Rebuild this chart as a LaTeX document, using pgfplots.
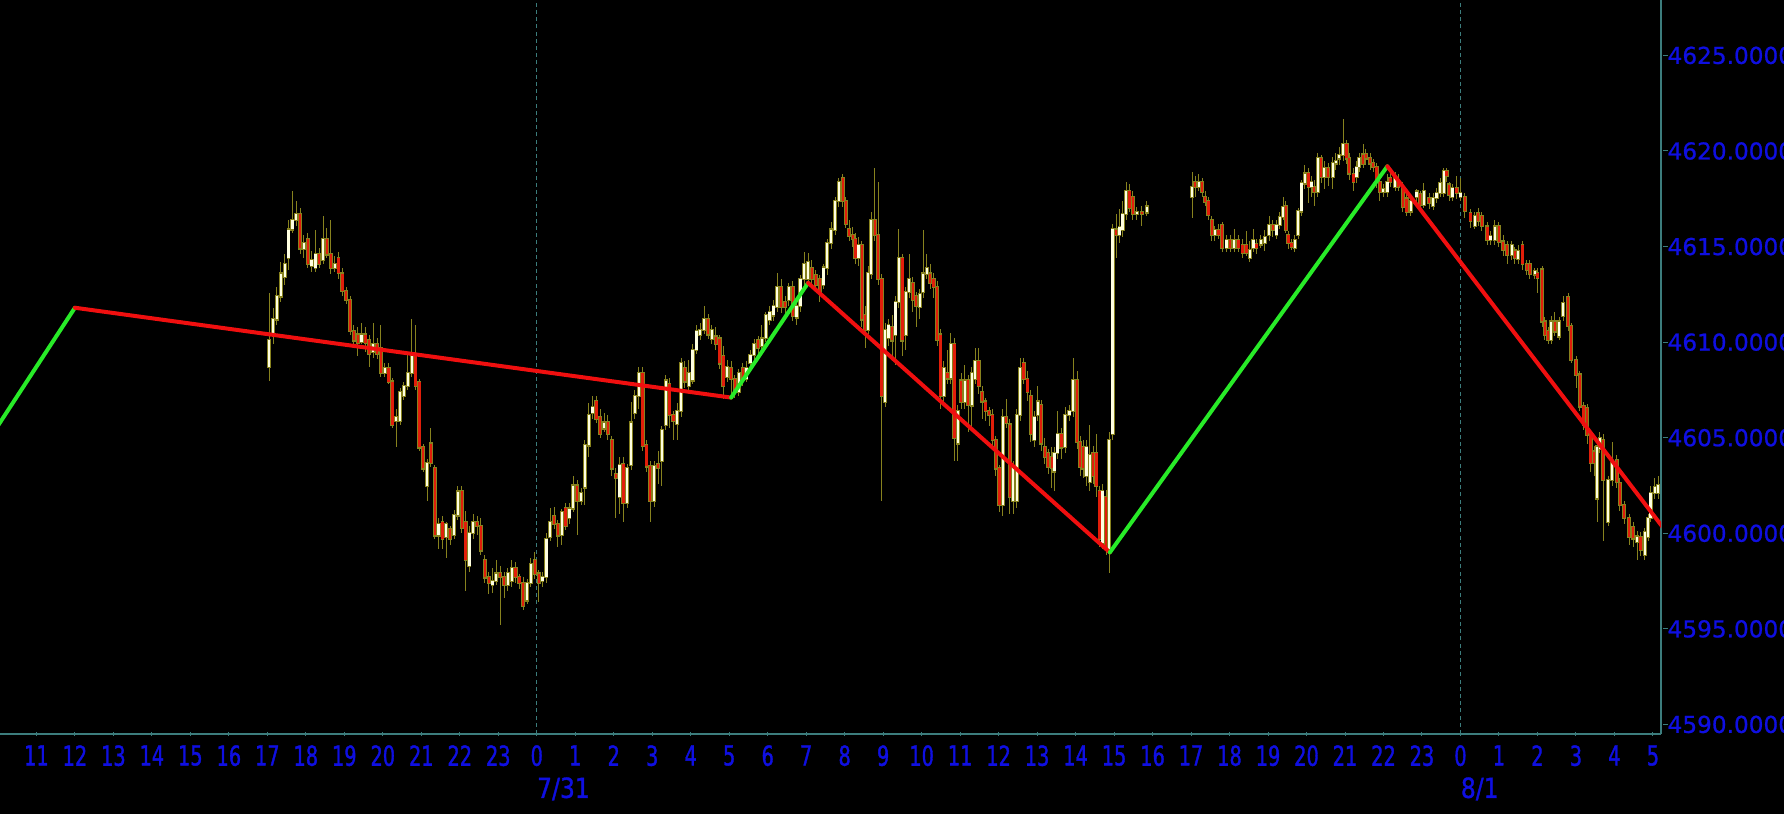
\documentclass[border=0pt]{standalone}
\usepackage{pgfplots}
\pgfplotsset{compat=1.18}
\usepackage{pgfplotstable}
\usepackage{fontspec}
\setmainfont{DejaVu Sans}
\newfontfamily\narrowfont[FakeStretch=0.7, FakeBold=1.2]{DejaVu Sans}
\newfontfamily\datefont[FakeStretch=0.85, FakeBold=1.2]{DejaVu Sans}
\newfontfamily\pricefont[FakeBold=0.8]{DejaVu Sans}

\definecolor{tickblue}{RGB}{15,15,225}
\definecolor{axisteal}{RGB}{60,125,125}
\definecolor{wick}{RGB}{135,130,30}
\definecolor{upfill}{RGB}{255,255,225}
\definecolor{downfill}{RGB}{225,30,10}
\definecolor{zzred}{RGB}{240,15,15}
\definecolor{zzgreen}{RGB}{40,235,40}

% candles: x = hours from 7/31 0:00
\pgfplotstableread{
x o h l c
-6.95 4608.7 4612.6 4608.0 4610.1
-6.85 4610.4 4611.8 4609.9 4611.2
-6.75 4611.2 4612.9 4610.9 4612.4
-6.65 4612.4 4614.2 4612.1 4613.6
-6.55 4613.4 4614.6 4613.0 4614.1
-6.45 4614.4 4616.4 4613.8 4615.9
-6.35 4615.9 4617.9 4615.7 4616.4
-6.25 4616.4 4617.4 4616.1 4616.7
-6.15 4616.7 4617.0 4614.6 4614.9
-6.05 4614.9 4615.6 4614.4 4615.2
-5.95 4615.4 4615.7 4613.9 4614.1
-5.85 4614.0 4614.8 4613.7 4614.3
-5.75 4613.9 4615.9 4613.7 4614.6
-5.65 4614.6 4614.9 4613.9 4614.1
-5.55 4614.3 4616.6 4614.1 4615.4
-5.45 4615.4 4616.0 4614.4 4614.6
-5.35 4614.6 4616.4 4613.6 4613.9
-5.25 4613.9 4614.5 4613.7 4614.1
-5.15 4614.4 4614.7 4613.3 4613.6
-5.05 4613.6 4613.9 4612.4 4612.7
-4.95 4612.7 4612.9 4612.0 4612.2
-4.85 4612.2 4612.4 4610.4 4610.6
-4.75 4610.6 4610.9 4609.9 4610.1
-4.65 4610.4 4610.8 4609.3 4609.95
-4.55 4610.0 4611.0 4609.9 4610.4
-4.45 4610.4 4610.8 4609.5 4609.95
-4.35 4610.1 4610.4 4608.7 4609.4
-4.25 4609.5 4611.0 4609.2 4609.9
-4.15 4609.9 4610.2 4609.1 4609.4
-4.05 4609.7 4610.9 4608.2 4608.4
-3.95 4608.4 4608.9 4608.2 4608.65
-3.85 4608.65 4608.9 4607.8 4607.95
-3.75 4607.95 4608.1 4605.5 4605.7
-3.65 4605.9 4606.5 4604.5 4606.1
-3.55 4605.9 4607.6 4605.7 4607.4
-3.45 4607.2 4607.9 4607.0 4607.7
-3.35 4607.7 4609.4 4607.5 4608.4
-3.25 4608.4 4611.2 4608.2 4609.3
-3.15 4609.3 4610.9 4607.5 4607.7
-3.05 4607.9 4608.1 4604.3 4604.5
-2.95 4604.5 4604.7 4603.2 4603.4
-2.85 4602.5 4603.9 4601.7 4603.7
-2.75 4604.7 4605.5 4603.5 4603.7
-2.65 4603.4 4603.6 4599.7 4599.9
-2.55 4599.9 4600.8 4599.2 4600.5
-2.45 4600.6 4600.9 4599.2 4599.7
-2.35 4599.8 4600.6 4598.7 4600.5
-2.25 4600.2 4600.4 4599.4 4599.7
-2.15 4599.9 4601.2 4599.7 4600.95
-2.05 4600.95 4602.5 4600.7 4602.2
-1.95 4602.2 4602.5 4600.0 4600.3
-1.85 4600.6 4601.2 4597.0 4598.6
-1.75 4598.3 4600.4 4598.0 4600.0
-1.65 4600.0 4601.0 4599.7 4600.6
-1.55 4600.6 4600.9 4599.9 4600.4
-1.45 4600.4 4600.8 4598.9 4599.1
-1.35 4598.6 4598.9 4597.4 4597.7
-1.25 4597.7 4598.0 4596.8 4597.4
-1.15 4597.3 4598.2 4596.9 4597.5
-1.05 4597.5 4598.6 4597.3 4597.9
-0.95 4597.9 4598.3 4595.2 4597.7
-0.85 4597.7 4598.0 4596.6 4597.3
-0.75 4597.3 4598.2 4597.0 4597.9
-0.65 4597.5 4598.6 4597.2 4598.2
-0.55 4598.2 4598.5 4597.4 4597.7
-0.45 4597.7 4597.9 4597.1 4597.4
-0.35 4597.4 4597.7 4596.0 4596.2
-0.25 4596.5 4597.6 4596.3 4597.4
-0.15 4597.4 4598.7 4597.2 4598.4
-0.05 4598.6 4599.0 4597.6 4597.9
0.05 4597.9 4598.1 4596.4 4597.4
0.15 4597.5 4598.0 4597.2 4597.7
0.25 4597.7 4600.0 4597.4 4599.7
0.35 4599.8 4601.3 4599.6 4600.6
0.45 4600.9 4601.4 4600.2 4600.5
0.55 4600.5 4600.7 4599.3 4599.9
0.65 4599.9 4601.3 4599.4 4601.1
0.75 4601.3 4601.6 4600.2 4600.4
0.85 4600.8 4601.6 4600.5 4601.3
0.95 4601.3 4603.0 4601.1 4602.5
1.05 4602.5 4602.8 4599.9 4601.7
1.15 4601.7 4602.4 4601.5 4602.1
1.25 4602.4 4604.9 4601.5 4604.6
1.35 4604.6 4606.8 4604.0 4606.2
1.45 4606.3 4607.2 4606.0 4606.6
1.55 4606.9 4607.2 4605.8 4606.0
1.65 4606.1 4606.5 4605.0 4605.2
1.75 4605.5 4606.3 4605.3 4605.8
1.85 4605.8 4606.2 4604.9 4605.2
1.95 4604.9 4605.1 4603.0 4603.4
2.05 4603.1 4603.4 4600.8 4602.9
2.15 4601.9 4604.0 4601.0 4603.6
2.25 4603.6 4604.0 4600.6 4601.6
2.35 4601.6 4603.6 4601.3 4603.4
2.45 4603.6 4606.9 4603.3 4605.8
2.55 4606.3 4607.5 4606.0 4607.2
2.65 4607.2 4608.7 4606.5 4608.4
2.75 4608.4 4608.7 4604.3 4604.6
2.85 4604.6 4604.9 4603.2 4603.5
2.95 4603.5 4603.8 4600.6 4601.7
3.05 4601.7 4603.8 4601.4 4603.5
3.15 4603.6 4604.3 4602.6 4603.4
3.25 4603.8 4605.6 4602.5 4605.4
3.35 4605.7 4608.3 4605.4 4608.0
3.45 4607.8 4608.1 4605.5 4606.2
3.55 4606.2 4606.4 4604.9 4605.9
3.65 4605.7 4606.8 4604.9 4606.4
3.75 4606.4 4609.2 4606.1 4608.9
3.85 4608.65 4609.0 4607.6 4607.96
3.95 4607.7 4609.1 4607.5 4608.4
4.05 4608.0 4609.9 4607.8 4609.6
4.15 4609.6 4610.9 4609.4 4610.6
4.25 4610.4 4611.0 4610.1 4610.65
4.35 4610.65 4611.9 4610.4 4611.2
4.45 4611.2 4611.5 4610.2 4610.4
4.55 4610.2 4610.9 4609.9 4610.65
4.65 4610.3 4610.8 4609.6 4609.9
4.75 4610.2 4610.4 4608.6 4608.9
4.85 4609.3 4609.8 4607.0 4607.7
4.95 4608.2 4609.1 4607.9 4608.7
5.05 4608.65 4609.0 4607.1 4608.1
5.15 4608.1 4608.3 4607.1 4607.4
5.25 4607.4 4608.6 4607.2 4608.4
5.35 4608.65 4608.9 4607.7 4608.1
5.45 4608.1 4609.0 4607.9 4608.65
5.55 4608.9 4609.6 4608.7 4609.35
5.65 4609.35 4610.2 4609.0 4609.9
5.75 4610.1 4610.3 4609.4 4609.7
5.85 4609.8 4610.9 4609.5 4610.2
5.95 4610.2 4611.6 4610.0 4611.4
6.05 4611.15 4611.9 4610.9 4611.6
6.15 4611.4 4612.2 4611.1 4611.9
6.25 4611.85 4613.6 4611.6 4612.9
6.35 4612.9 4613.3 4611.5 4611.85
6.45 4612.1 4612.4 4611.5 4611.85
6.55 4612.2 4613.1 4611.9 4612.9
6.65 4612.9 4613.2 4611.1 4611.4
6.75 4611.3 4612.1 4610.9 4611.9
6.85 4611.9 4613.5 4611.6 4613.3
6.95 4613.3 4614.7 4613.0 4614.1
7.05 4613.3 4614.65 4613.0 4614.2
7.15 4613.9 4614.3 4613.0 4613.3
7.25 4613.5 4613.8 4612.8 4613.0
7.35 4613.3 4613.5 4612.1 4612.6
7.45 4613.0 4614.1 4612.8 4613.9
7.55 4613.9 4615.4 4613.5 4615.2
7.65 4615.2 4616.3 4614.9 4615.9
7.75 4615.9 4617.6 4615.6 4617.4
7.85 4617.4 4618.6 4617.1 4618.4
7.95 4618.6 4618.8 4617.1 4617.4
8.03 4617.4 4617.6 4616.0 4616.2
8.12 4615.9 4616.4 4615.3 4615.55
8.21 4615.6 4616.0 4615.0 4615.4
8.28 4615.4 4615.7 4614.1 4614.4
8.36 4614.4 4615.5 4614.0 4615.1
8.45 4615.1 4615.3 4610.8 4611.2
8.53 4611.4 4611.9 4609.7 4610.65
8.61 4610.65 4614.0 4610.4 4613.6
8.69 4613.6 4616.8 4613.3 4616.4
8.78 4616.4 4619.1 4615.3 4615.6
8.87 4615.6 4618.4 4613.0 4613.3
8.96 4613.3 4613.6 4601.7 4607.2
9.05 4606.9 4611.0 4606.6 4610.65
9.14 4610.2 4611.2 4609.8 4610.9
9.23 4610.8 4611.4 4609.0 4610.1
9.32 4610.4 4612.4 4608.8 4612.1
9.41 4612.1 4615.9 4611.8 4614.4
9.50 4614.4 4614.6 4609.3 4610.1
9.59 4610.4 4612.9 4609.6 4612.65
9.68 4612.65 4614.6 4612.3 4613.3
9.77 4613.1 4613.4 4611.6 4612.2
9.86 4612.4 4612.6 4610.8 4611.9
9.95 4611.85 4612.8 4611.2 4612.5
10.04 4612.65 4615.9 4612.3 4613.6
10.13 4613.6 4614.6 4613.3 4613.9
10.22 4613.6 4614.1 4612.8 4613.1
10.31 4613.3 4613.6 4612.3 4612.9
10.40 4612.9 4613.2 4609.8 4610.1
10.49 4610.4 4610.7 4606.5 4607.2
10.58 4607.2 4609.0 4606.9 4608.65
10.67 4608.4 4609.6 4607.8 4608.1
10.76 4608.1 4610.5 4607.8 4609.9
10.85 4609.9 4610.2 4603.8 4605.0
10.94 4604.7 4606.7 4603.8 4606.4
11.03 4608.0 4608.4 4606.5 4606.9
11.12 4606.9 4608.8 4606.5 4608.0
11.21 4608.0 4608.3 4605.3 4606.7
11.30 4606.7 4608.7 4605.5 4608.4
11.39 4608.1 4609.7 4607.8 4609.0
11.48 4609.0 4609.7 4607.3 4607.7
11.57 4607.4 4607.7 4606.0 4606.9
11.66 4606.9 4607.1 4605.9 4606.4
11.75 4606.4 4606.6 4605.6 4606.2
11.84 4606.2 4606.5 4604.6 4604.9
11.93 4604.9 4605.1 4603.0 4603.4
12.02 4603.4 4603.6 4601.1 4601.5
12.11 4601.5 4606.5 4600.9 4606.1
12.20 4606.1 4607.0 4605.5 4605.8
12.29 4605.7 4606.0 4601.0 4601.9
12.38 4601.7 4603.8 4601.0 4603.4
12.47 4601.7 4606.5 4601.3 4606.2
12.56 4606.2 4609.2 4605.9 4608.65
12.65 4608.9 4609.2 4607.8 4608.1
12.75 4608.1 4608.5 4606.9 4607.4
12.84 4607.2 4607.5 4604.8 4605.2
12.93 4604.9 4606.4 4604.5 4606.1
13.02 4606.2 4607.7 4605.9 4606.9
13.11 4606.7 4607.0 4604.3 4604.7
13.20 4604.5 4605.0 4603.6 4604.0
13.29 4604.2 4604.4 4603.1 4603.5
13.38 4604.0 4604.5 4602.4 4603.4
13.45 4603.25 4604.5 4602.2 4604.2
13.53 4604.2 4606.4 4603.9 4605.2
13.63 4605.2 4605.5 4603.9 4604.5
13.73 4604.5 4606.6 4604.2 4606.2
13.84 4606.2 4606.7 4605.9 4606.4
13.94 4606.4 4609.2 4606.1 4608.0
14.04 4608.0 4608.5 4604.4 4604.8
14.12 4604.8 4605.1 4603.0 4603.5
14.20 4604.5 4604.9 4602.9 4603.4
14.28 4603.0 4604.9 4602.5 4604.5
14.37 4602.7 4605.7 4602.2 4604.1
14.46 4604.2 4604.6 4602.6 4603.0
14.54 4604.2 4605.2 4601.9 4602.5
14.62 4602.2 4602.5 4599.3 4599.7
14.70 4599.5 4602.6 4599.2 4602.2
14.79 4601.9 4602.3 4598.9 4599.2
14.87 4599.2 4605.3 4597.9 4604.9
14.96 4605.2 4616.2 4604.9 4615.9
15.05 4615.9 4616.7 4614.4 4615.6
15.14 4615.6 4617.0 4615.2 4616.0
15.22 4615.9 4617.4 4615.5 4616.7
15.31 4616.7 4618.4 4616.4 4617.9
15.40 4617.9 4618.3 4616.8 4617.0
15.49 4617.6 4617.9 4616.4 4616.7
15.59 4616.7 4617.1 4616.4 4616.8
15.72 4616.8 4617.1 4616.1 4616.7
15.85 4616.8 4617.4 4616.6 4617.1
17.03 4617.62 4618.9 4616.5 4618.14
17.11 4618.4 4618.7 4617.6 4618.14
17.20 4618.14 4618.8 4617.9 4618.4
17.29 4618.4 4618.6 4617.6 4617.88
17.37 4617.62 4617.9 4617.1 4617.36
17.45 4617.4 4617.6 4616.4 4616.66
17.54 4616.4 4616.6 4615.3 4615.62
17.62 4615.62 4616.1 4615.3 4615.88
17.71 4615.88 4616.2 4615.4 4615.62
17.81 4616.14 4616.3 4614.7 4614.92
17.92 4614.92 4615.6 4614.7 4615.36
18.02 4615.36 4615.6 4614.7 4614.92
18.12 4614.92 4615.9 4614.7 4615.36
18.23 4615.36 4615.6 4614.7 4614.92
18.34 4615.1 4615.4 4614.4 4614.66
18.44 4615.1 4615.8 4614.5 4614.66
18.53 4614.4 4615.3 4614.2 4614.84
18.62 4614.92 4615.9 4614.7 4615.36
18.70 4615.13 4615.4 4614.6 4614.92
18.81 4615.13 4615.6 4614.9 4615.36
18.92 4615.2 4615.9 4614.8 4615.5
19.03 4615.62 4616.6 4615.3 4616.14
19.12 4616.14 4616.4 4615.5 4615.88
19.22 4615.62 4616.4 4615.4 4616.14
19.31 4616.14 4616.8 4615.9 4616.57
19.39 4616.57 4617.6 4616.4 4617.1
19.46 4617.1 4617.4 4615.7 4615.88
19.53 4615.62 4615.8 4614.9 4615.18
19.61 4615.18 4615.4 4614.8 4615.0
19.70 4614.92 4615.6 4614.7 4615.36
19.78 4615.62 4617.0 4615.4 4616.84
19.87 4616.84 4618.5 4616.6 4618.31
19.96 4618.31 4619.3 4618.0 4618.83
20.05 4618.83 4619.1 4617.3 4618.14
20.13 4618.14 4618.7 4617.6 4618.4
20.20 4618.14 4618.5 4617.1 4617.88
20.29 4617.88 4619.9 4617.6 4619.62
20.38 4619.62 4619.8 4618.3 4618.66
20.46 4618.66 4619.5 4618.0 4619.1
20.56 4619.1 4619.4 4618.2 4618.66
20.68 4618.66 4619.7 4618.0 4619.36
20.76 4619.36 4619.9 4619.0 4619.5
20.85 4619.62 4620.2 4619.3 4619.8
20.95 4619.8 4621.7 4619.5 4620.35
21.04 4620.35 4620.6 4619.3 4619.62
21.11 4619.62 4619.9 4618.5 4618.83
21.22 4618.83 4619.1 4617.9 4618.4
21.30 4618.66 4619.5 4618.3 4619.18
21.37 4619.18 4619.9 4618.9 4619.62
21.47 4619.83 4620.4 4619.1 4619.36
21.54 4619.83 4620.1 4619.3 4619.62
21.65 4619.62 4619.9 4619.0 4619.36
21.73 4619.36 4619.6 4618.9 4619.18
21.82 4619.18 4619.4 4618.1 4618.4
21.90 4618.4 4618.7 4617.4 4617.88
21.99 4617.88 4618.3 4617.6 4618.0
22.10 4617.88 4618.8 4617.6 4618.4
22.18 4618.6 4618.9 4618.1 4618.4
22.30 4618.14 4618.9 4617.9 4618.6
22.38 4618.4 4618.8 4617.9 4618.14
22.50 4618.14 4618.4 4616.8 4617.1
22.60 4617.53 4617.8 4616.6 4616.84
22.71 4616.84 4617.6 4616.6 4617.36
22.86 4617.6 4618.0 4617.3 4617.88
22.95 4617.73 4617.9 4616.9 4617.2
23.05 4617.2 4618.3 4617.0 4617.9
23.19 4617.55 4617.8 4617.0 4617.29
23.29 4617.12 4617.8 4616.9 4617.55
23.38 4617.55 4618.1 4617.3 4617.82
23.47 4617.82 4618.6 4617.6 4618.3
23.57 4617.82 4619.1 4617.6 4618.95
23.64 4618.95 4619.1 4618.4 4618.7
23.71 4618.25 4618.4 4617.4 4617.73
23.79 4617.6 4618.3 4617.4 4618.08
23.90 4618.08 4618.7 4617.5 4617.82
24.00 4617.6 4618.6 4617.4 4617.82
24.11 4617.59 4617.8 4616.5 4616.86
24.26 4616.77 4617.0 4616.0 4616.33
24.37 4616.07 4616.8 4615.9 4616.59
24.46 4616.77 4617.0 4616.1 4616.33
24.55 4616.59 4616.8 4615.8 4616.07
24.70 4616.07 4616.3 4615.1 4615.37
24.78 4615.37 4615.8 4615.1 4615.55
24.89 4615.37 4616.4 4615.1 4616.07
25.00 4616.07 4616.3 4615.0 4615.28
25.11 4615.28 4615.6 4614.5 4614.85
25.21 4615.11 4615.3 4614.1 4614.59
25.33 4614.59 4615.3 4614.3 4615.07
25.41 4614.79 4615.0 4614.1 4614.41
25.50 4614.38 4615.1 4614.1 4614.79
25.61 4615.07 4615.3 4613.8 4614.1
25.72 4614.1 4614.3 4613.5 4613.8
25.80 4614.06 4614.3 4613.3 4613.57
25.93 4613.54 4613.9 4613.3 4613.7
26.00 4613.62 4613.9 4612.6 4613.36
26.12 4613.8 4614.0 4610.8 4611.09
26.19 4611.09 4611.3 4610.1 4610.39
26.28 4610.57 4610.8 4609.9 4610.13
26.36 4610.13 4611.4 4609.9 4611.09
26.45 4611.09 4611.6 4610.3 4610.57
26.56 4610.31 4611.3 4610.1 4611.09
26.67 4611.35 4612.4 4611.1 4612.05
26.80 4612.35 4612.6 4610.6 4610.83
26.88 4610.83 4611.0 4608.9 4609.08
27.01 4609.08 4609.3 4607.6 4608.3
27.10 4608.3 4608.5 4606.4 4606.64
27.20 4606.64 4606.9 4605.4 4605.68
27.29 4606.55 4606.8 4604.7 4605.15
27.38 4605.15 4605.4 4603.2 4603.67
27.47 4604.28 4604.6 4603.0 4603.67
27.55 4601.83 4604.8 4600.6 4604.54
27.62 4604.45 4605.3 4604.2 4604.98
27.71 4604.89 4605.2 4599.6 4602.79
27.84 4600.61 4603.0 4600.4 4602.79
27.94 4602.79 4604.8 4602.5 4603.67
28.06 4603.84 4604.1 4602.4 4602.7
28.14 4602.62 4602.9 4601.2 4601.48
28.25 4601.48 4601.7 4600.5 4600.79
28.38 4600.79 4601.0 4599.4 4599.83
28.49 4600.35 4600.6 4599.3 4599.74
28.59 4599.56 4600.1 4598.6 4599.83
28.68 4599.83 4600.1 4598.8 4599.13
28.79 4598.86 4600.3 4598.6 4600.09
28.88 4599.83 4601.0 4599.6 4600.79
28.94 4600.79 4602.5 4600.6 4602.1
29.05 4602.1 4602.9 4601.8 4602.4
29.14 4602.1 4603.0 4601.8 4602.53
}\candles

\begin{document}
\begin{tikzpicture}
\fill[black] (0,0) rectangle (892pt,407pt);
\path[use as bounding box] (0,0) rectangle (892pt,407pt);
\begin{axis}[
    at={(0pt,40pt)}, anchor=south west,
    scale only axis, width=830.5pt, height=367pt,
    xmin=-13.946, xmax=29.21, ymin=4589.5, ymax=4627.9,
    axis x line=bottom, axis y line=right,
    axis line style={-, draw=axisteal, line width=0.6pt},
    xtick={-13,...,29},
    xticklabels={11,12,13,14,15,16,17,18,19,20,21,22,23,0,1,2,3,4,5,6,7,8,9,10,11,12,13,14,15,16,17,18,19,20,21,22,23,0,1,2,3,4,5},
    ytick={4590,4595,...,4625},
    yticklabels={4590.0000,4595.0000,4600.0000,4605.0000,4610.0000,4615.0000,4620.0000,4625.0000},
    major tick length=2.2pt,
    tick style={draw=axisteal, line width=0.5pt},
    ytick style={xshift=2.2pt},
    xticklabel style={font=\fontsize{13.8}{14}\narrowfont, text=tickblue, yshift=-1pt},
    yticklabel style={font=\fontsize{11.6}{12}\pricefont, text=tickblue, anchor=west, inner sep=0pt, xshift=2pt},
]
% day separators
\addplot[axisteal, line width=0.5pt, dash pattern=on 2pt off 1.6pt] coordinates {(0,4589.5) (0,4627.9)};
\addplot[axisteal, line width=0.5pt, dash pattern=on 2pt off 1.6pt] coordinates {(24,4589.5) (24,4627.9)};
\coordinate (d0) at (axis cs:0,4589.5);
\coordinate (d1) at (axis cs:24,4589.5);

% wicks
\addplot[draw=none, mark=none, forget plot,
  error bars/.cd, y dir=both, y explicit, error mark=none,
  error bar style={line width=0.5pt, draw=wick, solid}]
  table[x=x, y expr={(\thisrow{h}+\thisrow{l})/2}, y error expr={(\thisrow{h}-\thisrow{l})/2}] {\candles};
% body outline
\addplot[draw=none, mark=none, forget plot,
  error bars/.cd, y dir=both, y explicit, error mark=none,
  error bar style={line width=1.95pt, draw=wick, solid}]
  table[x=x, y expr={(\thisrow{o}+\thisrow{c})/2}, y error expr={abs(\thisrow{c}-\thisrow{o})/2+0.06}] {\candles};
% up bodies
\addplot[draw=none, mark=none, forget plot,
  restrict expr to domain={\thisrow{c}-\thisrow{o}}{0:100},
  error bars/.cd, y dir=both, y explicit, error mark=none,
  error bar style={line width=1.15pt, draw=upfill, solid}]
  table[x=x, y expr={(\thisrow{o}+\thisrow{c})/2}, y error expr={abs(\thisrow{c}-\thisrow{o})/2}] {\candles};
% down bodies
\addplot[draw=none, mark=none, forget plot,
  restrict expr to domain={\thisrow{c}-\thisrow{o}}{-100:-0.001},
  error bars/.cd, y dir=both, y explicit, error mark=none,
  error bar style={line width=1.15pt, draw=downfill, solid}]
  table[x=x, y expr={(\thisrow{o}+\thisrow{c})/2}, y error expr={abs(\thisrow{c}-\thisrow{o})/2}] {\candles};

% zigzag
\addplot[zzgreen, line width=2pt, line cap=round] coordinates {(-14.3,4604.7) (-12,4611.8)};
\addplot[zzred, line width=2pt, line cap=round] coordinates {(-12,4611.8) (5.05,4607.1)};
\addplot[zzgreen, line width=2pt, line cap=round] coordinates {(5.05,4607.1) (7.05,4613.1)};
\addplot[zzred, line width=2pt, line cap=round] coordinates {(7.05,4613.1) (14.89,4599.0)};
\addplot[zzgreen, line width=2pt, line cap=round] coordinates {(14.89,4599.0) (22.1,4619.2)};
\addplot[zzred, line width=2pt, line cap=round] coordinates {(22.1,4619.2) (29.3,4600.2)};
\end{axis}
\node[anchor=north west, inner sep=0pt, font=\fontsize{13.8}{14}\datefont, text=tickblue] at ([yshift=-21.5pt]d0) {7/31};
\node[anchor=north west, inner sep=0pt, font=\fontsize{13.8}{14}\datefont, text=tickblue] at ([yshift=-21.5pt]d1) {8/1};
\end{tikzpicture}
\end{document}
